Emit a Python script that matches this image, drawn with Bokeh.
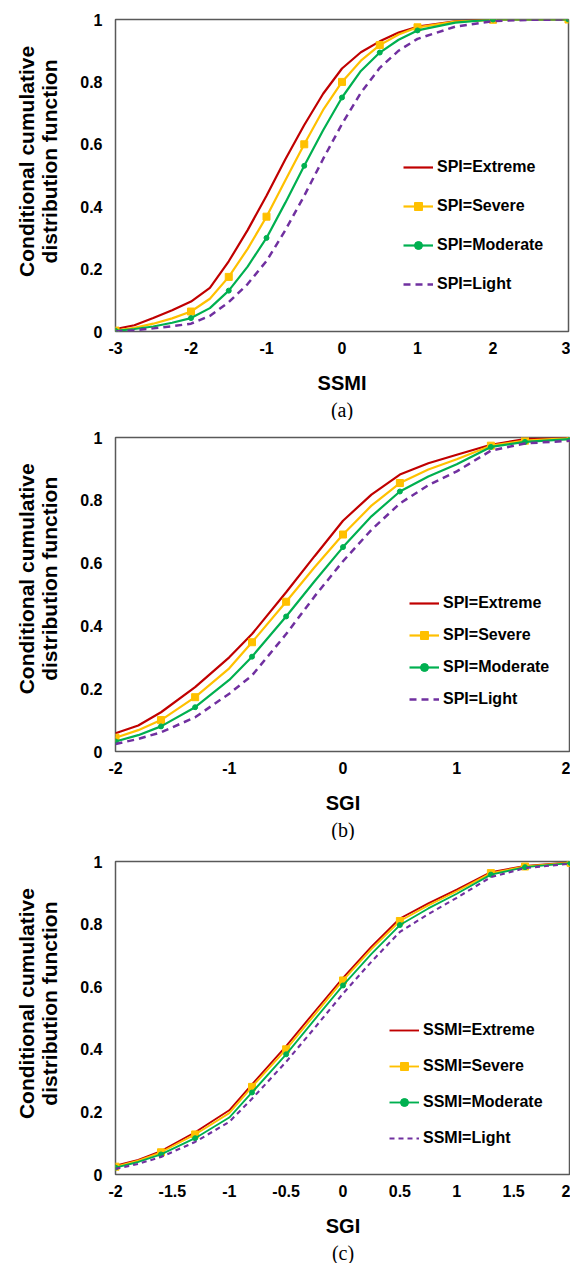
import math
from bokeh.plotting import figure
from bokeh.layouts import column, row
from bokeh.models import FixedTicker, Legend, LegendItem, Title
from bokeh.core.properties import value
from bokeh.embed import file_html
from bokeh.resources import INLINE

# ---------------- data ----------------
Y_TICKS = [0, 0.2, 0.4, 0.6, 0.8, 1]
Y_TICK_LABELS = ["0", "0.2", "0.4", "0.6", "0.8", "1"]

# Panel (a): x = SSMI
A_X = [-3, -2.75, -2.5, -2.25, -2, -1.75, -1.5, -1.25, -1, -0.75, -0.5, -0.25,
       0, 0.25, 0.5, 0.75, 1, 1.5, 2, 2.5, 3]
A_EXTREME = [0.008, 0.02, 0.043, 0.068, 0.096, 0.14, 0.225, 0.325, 0.435, 0.552, 0.662, 0.762,
             0.843, 0.895, 0.93, 0.958, 0.977, 0.994, 1.0, 1.0, 1.0]
A_SEVERE = [0.003, 0.012, 0.025, 0.042, 0.064, 0.105, 0.175, 0.265, 0.368, 0.485, 0.60, 0.71,
            0.80, 0.868, 0.918, 0.952, 0.975, 0.993, 0.999, 1.0, 1.0]
A_MODERATE = [0.002, 0.008, 0.016, 0.028, 0.043, 0.075, 0.131, 0.208, 0.30, 0.413, 0.531, 0.645,
              0.75, 0.835, 0.894, 0.935, 0.965, 0.99, 1.0, 1.0, 1.0]
A_LIGHT = [0.0, 0.004, 0.01, 0.017, 0.025, 0.05, 0.094, 0.152, 0.226, 0.325, 0.435, 0.553,
           0.665, 0.765, 0.845, 0.90, 0.938, 0.977, 0.995, 0.999, 1.0]
A_MARK_X = [-3, -2, -1.5, -1, -0.5, 0, 0.5, 1, 2, 3]
A_XTICKS = [-3, -2, -1, 0, 1, 2, 3]
A_XTICK_LABELS = ["-3", "-2", "-1", "0", "1", "2", "3"]
A_LEGEND = ["SPI=Extreme", "SPI=Severe", "SPI=Moderate", "SPI=Light"]

# Panel (b): x = SGI
B_X = [-2, -1.8, -1.6, -1.3, -1, -0.8, -0.5, -0.25, 0, 0.25, 0.5, 0.75, 1, 1.3, 1.6, 2]
B_EXTREME = [0.058, 0.083, 0.125, 0.205, 0.30, 0.374, 0.507, 0.622, 0.735, 0.818, 0.882, 0.918,
             0.945, 0.977, 0.995, 0.999]
B_SEVERE = [0.044, 0.068, 0.10, 0.173, 0.265, 0.348, 0.477, 0.587, 0.691, 0.783, 0.855, 0.898,
            0.931, 0.974, 0.99, 0.998]
B_MODERATE = [0.032, 0.052, 0.08, 0.141, 0.228, 0.302, 0.43, 0.542, 0.651, 0.749, 0.828, 0.876,
              0.915, 0.970, 0.986, 0.995]
B_LIGHT = [0.024, 0.04, 0.061, 0.109, 0.184, 0.242, 0.374, 0.494, 0.606, 0.706, 0.79, 0.848,
           0.892, 0.958, 0.981, 0.99]
B_MARK_X = [-2, -1.6, -1.3, -0.8, -0.5, 0, 0.5, 1.3, 1.6, 2]
B_XTICKS = [-2, -1, 0, 1, 2]
B_XTICK_LABELS = ["-2", "-1", "0", "1", "2"]
B_LEGEND = ["SPI=Extreme", "SPI=Severe", "SPI=Moderate", "SPI=Light"]

# Panel (c): x = SGI
C_X = [-2, -1.8, -1.6, -1.3, -1, -0.8, -0.5, -0.25, 0, 0.25, 0.5, 0.75, 1, 1.3, 1.6, 2]
C_EXTREME = [0.028, 0.047, 0.075, 0.135, 0.205, 0.288, 0.41, 0.52, 0.628, 0.728, 0.818, 0.866,
             0.91, 0.966, 0.986, 0.997]
C_SEVERE = [0.025, 0.044, 0.071, 0.128, 0.196, 0.28, 0.40, 0.51, 0.62, 0.72, 0.81, 0.86,
            0.905, 0.963, 0.984, 0.996]
C_MODERATE = [0.022, 0.04, 0.064, 0.116, 0.182, 0.262, 0.384, 0.495, 0.604, 0.705, 0.797, 0.85,
              0.897, 0.958, 0.982, 0.995]
C_LIGHT = [0.018, 0.034, 0.056, 0.104, 0.168, 0.242, 0.36, 0.468, 0.578, 0.68, 0.775, 0.832,
           0.884, 0.95, 0.979, 0.993]
C_MARK_X = [-2, -1.6, -1.3, -0.8, -0.5, 0, 0.5, 1.3, 1.6, 2]
C_XTICKS = [-2, -1.5, -1, -0.5, 0, 0.5, 1, 1.5, 2]
C_XTICK_LABELS = ["-2", "-1.5", "-1", "-0.5", "0", "0.5", "1", "1.5", "2"]
C_LEGEND = ["SSMI=Extreme", "SSMI=Severe", "SSMI=Moderate", "SSMI=Light"]

Y_TITLE_LINES = ["Conditional cumulative", "distribution function"]

# ---------------- style ----------------
RED = "#C00000"
ORANGE = "#FFC000"
GREEN = "#00B050"
PURPLE = "#7030A0"
FONT = "Liberation Sans"
SERIF = "Liberation Serif"
TITLE_W = 70  # width of the side strip holding the y title


def ytitle_strip(height, yc):
    f = figure(width=TITLE_W, height=height, output_backend="svg", toolbar_location=None,
               x_range=(0, TITLE_W), y_range=(0, height), min_border=0,
               x_axis_location=None, y_axis_location=None)
    f.outline_line_color = None
    f.grid.visible = False
    f.background_fill_color = "white"
    f.border_fill_color = "white"
    f.text(x=[26, 49], y=[yc, yc], text=Y_TITLE_LINES, angle=math.pi / 2,
           text_align="center", text_baseline="middle",
           text_font=value(FONT), text_font_style="bold", text_font_size="21px",
           text_color="black")
    return f


def panel(x, ext, sev, mod, lig, mark_x, xticks, xlabels, xtitle, caption, labels,
          height, top, bottom, right, leg_loc, leg_spacing, dash, lw_scale=1.0):
    p = figure(width=570 - TITLE_W, height=height, output_backend="svg", toolbar_location=None,
               x_range=(x[0], x[-1]), y_range=(0, 1),
               min_border_left=115 - TITLE_W, min_border_right=right,
               min_border_top=top, min_border_bottom=bottom)
    p.background_fill_color = "white"
    p.border_fill_color = "white"
    p.outline_line_color = "#595959"
    p.outline_line_width = 1.5
    p.xgrid.visible = False
    p.ygrid.visible = False

    r_ext = p.line(x, ext, line_color=RED, line_width=2.2 * lw_scale)
    r_sev = p.line(x, sev, line_color=ORANGE, line_width=2.2 * lw_scale)
    mx = [xv for xv in x if xv in mark_x]
    my_s = [sev[i] for i, xv in enumerate(x) if xv in mark_x]
    my_m = [mod[i] for i, xv in enumerate(x) if xv in mark_x]
    s_sev = p.scatter(mx, my_s, marker="square", size=7, fill_color=ORANGE, line_color=ORANGE)
    r_mod = p.line(x, mod, line_color=GREEN, line_width=2.2 * lw_scale)
    s_mod = p.scatter(mx, my_m, marker="circle", size=5, fill_color=GREEN, line_color=GREEN)
    r_lig = p.line(x, lig, line_color=PURPLE, line_width=2.5 * lw_scale, line_dash=dash)

    for ax in (p.xaxis[0], p.yaxis[0]):
        ax.axis_line_color = None
        ax.major_tick_line_color = None
        ax.minor_tick_line_color = None
        ax.major_tick_out = 0
        ax.major_tick_in = 0
        ax.minor_tick_out = 0
        ax.major_label_text_font = FONT
        ax.major_label_text_font_style = "bold"
        ax.major_label_text_font_size = "16px"
        ax.major_label_text_color = "black"

    p.xaxis.ticker = FixedTicker(ticks=xticks)
    p.xaxis.major_label_overrides = {t: l for t, l in zip(xticks, xlabels)}
    p.xaxis.major_label_standoff = 10
    p.xaxis.axis_label = xtitle
    p.xaxis.axis_label_text_font = FONT
    p.xaxis.axis_label_text_font_style = "bold"
    p.xaxis.axis_label_text_font_size = "20px"
    p.xaxis.axis_label_text_color = "black"
    p.xaxis.axis_label_standoff = 15

    p.yaxis.ticker = FixedTicker(ticks=Y_TICKS)
    p.yaxis.major_label_overrides = {t: l for t, l in zip(Y_TICKS, Y_TICK_LABELS)}
    p.yaxis.major_label_standoff = 13

    cap = Title(text=caption, align="center", standoff=0,
                text_font=SERIF, text_font_style="normal", text_font_size="20px",
                text_color="black")
    p.add_layout(cap, "below")

    items = [LegendItem(label=labels[0], renderers=[r_ext]),
             LegendItem(label=labels[1], renderers=[r_sev, s_sev]),
             LegendItem(label=labels[2], renderers=[r_mod, s_mod]),
             LegendItem(label=labels[3], renderers=[r_lig])]
    leg = Legend(items=items, location=leg_loc, orientation="vertical",
                 glyph_width=30, glyph_height=20, label_height=20, label_standoff=4,
                 spacing=leg_spacing, padding=0, margin=0,
                 border_line_color=None, background_fill_alpha=0,
                 label_text_font=FONT, label_text_font_style="bold",
                 label_text_font_size="16px", label_text_color="black")
    p.add_layout(leg, "center")
    return p


pa = panel(A_X, A_EXTREME, A_SEVERE, A_MODERATE, A_LIGHT, A_MARK_X, A_XTICKS, A_XTICK_LABELS,
           "SSMI", "(a)", A_LEGEND, 420, 19, 87, 2, (288, 37), 19, "7 5")
pb = panel(B_X, B_EXTREME, B_SEVERE, B_MODERATE, B_LIGHT, B_MARK_X, B_XTICKS, B_XTICK_LABELS,
           "SGI", "(b)", B_LEGEND, 420, 17, 89, 0, (294, 42), 12, "7 5")
pc = panel(C_X, C_EXTREME, C_SEVERE, C_MODERATE, C_LIGHT, C_MARK_X, C_XTICKS, C_XTICK_LABELS,
           "SGI", "(c)", C_LEGEND, 423, 21, 88, 0, (274, 26), 16, "5 4", lw_scale=0.85)

ya = ytitle_strip(420, 229)
yb = ytitle_strip(420, 231)
yc = ytitle_strip(423, 231)

layout = column(row(ya, pa, spacing=0), row(yb, pb, spacing=0), row(yc, pc, spacing=0),
                spacing=0)
open("out.html", "w").write(file_html(layout, INLINE))
